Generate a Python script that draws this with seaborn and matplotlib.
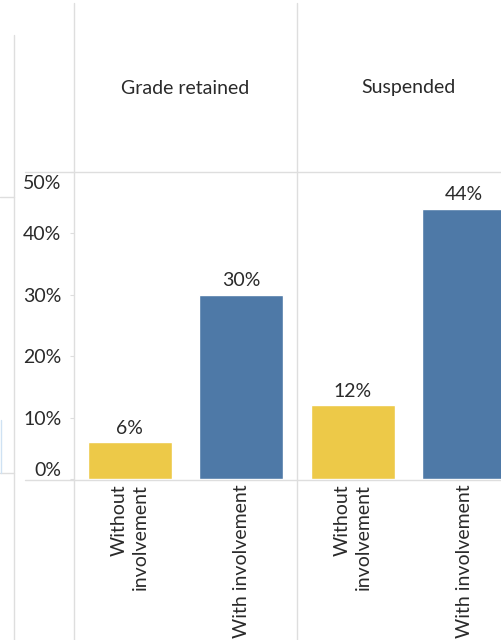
import matplotlib
matplotlib.use("Agg")
import matplotlib.pyplot as plt
from matplotlib.lines import Line2D
from matplotlib.transforms import offset_copy
import seaborn as sns
import pandas as pd

# ---- data ----
panels = ["Grade retained", "Suspended"]
groups = ["Without\ninvolvement", "With involvement"]
grade_retained = [6, 30]
suspended = [12, 44]
y_ticks = [0, 10, 20, 30, 40, 50]
y_tick_labels = ["0%", "10%", "20%", "30%", "40%", "50%"]
colors = ["#EDC948", "#4E79A7"]

df = pd.DataFrame({
    "panel": [panels[0]] * 2 + [panels[1]] * 2,
    "group": groups * 2,
    "value": grade_retained + suspended,
})

sns.set_theme(style="white")
plt.rcParams["font.family"] = ["Lato", "DejaVu Sans"]
TXT = "#2a2a2a"
GRID = "#dedede"
FS = 14

W, H = 502, 640
fig = plt.figure(figsize=(W / 100, H / 100), dpi=100)

def fx(px):
    return px / W

def fy(py):
    return 1 - py / H

pane_w = 223
top_px, bot_px = 172, 479
lefts = [74, 297]
axes = []
for i, (name, left) in enumerate(zip(panels, lefts)):
    ax = fig.add_axes([fx(left), fy(bot_px), pane_w / W, (bot_px - top_px) / H])
    sub = df[df["panel"] == name]
    sns.barplot(data=sub, x="group", y="value", hue="group", palette=colors,
                order=groups, hue_order=groups, width=0.75, legend=False,
                saturation=1, ax=ax)
    ax.set_xlim(-0.5, 1.5)
    ax.set_ylim(0, 50)
    ax.set_xlabel("")
    ax.set_ylabel("")
    for s in ax.spines.values():
        s.set_visible(False)
    for cont in ax.containers:
        ax.bar_label(cont, fmt="{:.0f}%", padding=4, fontsize=FS, color=TXT)
    ax.set_xticks(range(len(groups)))
    ax.set_xticklabels(groups, rotation=90, fontsize=FS, color=TXT,
                       multialignment="right", linespacing=1.3)
    ax.tick_params(axis="x", length=0, pad=4)
    if i == 0:
        ax.set_yticks(y_ticks)
        ax.set_yticklabels(y_tick_labels, fontsize=FS, color=TXT)
        ax.tick_params(axis="y", length=3, width=0.8, color=GRID, pad=6, left=True)
        tl = ax.get_yticklabels()
        tl[0].set_va("bottom")
        tl[-1].set_va("top")
        tl[-1].set_transform(offset_copy(tl[-1].get_transform(), fig=fig, y=-3, units="dots"))
    else:
        ax.set_yticks([])
    # header
    fig.text(fx(left + pane_w / 2), fy(88), name, ha="center", va="center",
             fontsize=FS, color=TXT)
    axes.append(ax)

def hline(y, x0, x1, c=GRID):
    fig.add_artist(Line2D([fx(x0), fx(x1)], [fy(y), fy(y)], color=c, lw=1))

def vline(x, y0, y1, c=GRID):
    fig.add_artist(Line2D([fx(x), fx(x)], [fy(y0), fy(y1)], color=c, lw=1))

vline(14, 35, 640)
hline(197, 0, 14)
hline(473, 0, 14)
vline(0.5, 420, 473, c="#cfe2f3")
vline(74, 3, 640)
vline(297, 3, 640)
hline(172, 25, 502)
hline(479.5, 25, 502)

fig.savefig("out.png", dpi=100)
